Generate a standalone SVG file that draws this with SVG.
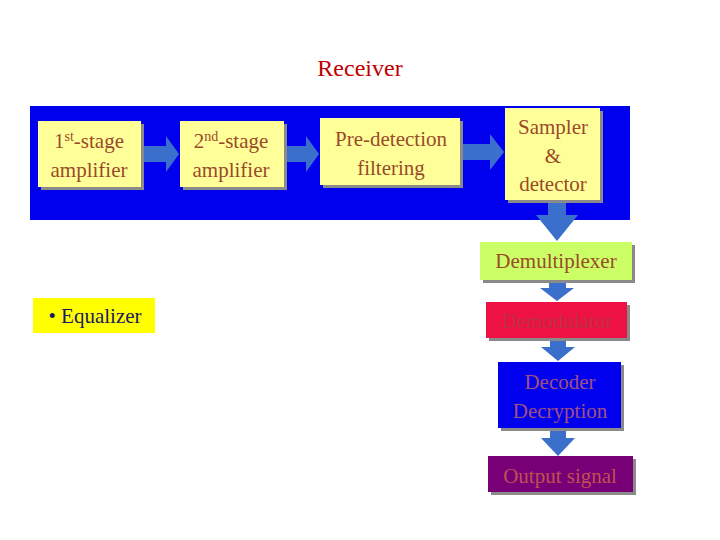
<svg xmlns="http://www.w3.org/2000/svg" width="720" height="540" viewBox="0 0 720 540">
<style>
text{font-family:"Liberation Serif","Times New Roman",serif;font-size:21px;fill:#9a4a2a;text-anchor:middle}
.sh{fill:#8a8a8a}
.ar{fill:#3a6fcc}
</style>
<rect width="720" height="540" fill="#fff"/>
<text x="360" y="76" style="fill:#c00000;font-size:24px">Receiver</text>
<rect x="30" y="106" width="600" height="114" fill="#0000ee"/>
<g id="connectors">
<polygon class="ar" points="141,146 166,146 166,136 179,154 166,172 166,162 141,162"/>
<polygon class="ar" points="284,146 306,146 306,136 319,154 306,172 306,162 284,162"/>
<polygon class="ar" points="460,144 490,144 490,134 504,152 490,170 490,160 460,160"/>
<polygon class="ar" points="548,200 566,200 566,215 578,215 557,241 536,215 548,215"/>
<polygon class="ar" points="549,280 566,280 566,288 574,288 557,301 540,288 549,288"/>
<polygon class="ar" points="550,338 566,338 566,347 575,347 558,361 541,347 550,347"/>
<polygon class="ar" points="550,428 566,428 566,438 575,438 558,456 541,438 550,438"/>
</g>
<g id="n1"><rect class="sh" x="41" y="124" width="103" height="66"/><rect x="38" y="121" width="103" height="66" fill="#ffff99"/>
<text x="89" y="148">1<tspan dy="-7" style="font-size:14px">st</tspan><tspan dy="7">-stage</tspan></text><text x="89" y="177">amplifier</text></g>
<g id="n2"><rect class="sh" x="183" y="124" width="104" height="66"/><rect x="180" y="121" width="104" height="66" fill="#ffff99"/>
<text x="231" y="148">2<tspan dy="-7" style="font-size:14px">nd</tspan><tspan dy="7">-stage</tspan></text><text x="231" y="177">amplifier</text></g>
<g id="n3"><rect class="sh" x="323" y="121" width="140" height="67"/><rect x="320" y="118" width="140" height="67" fill="#ffff99"/>
<text x="391" y="146">Pre-detection</text><text x="391" y="175">filtering</text></g>
<g id="n4"><rect class="sh" x="508" y="111" width="95" height="92"/><rect x="505" y="108" width="95" height="92" fill="#ffff99"/>
<text x="553" y="134">Sampler</text><text x="553" y="163">&amp;</text><text x="553" y="191">detector</text></g>
<g id="n5"><rect class="sh" x="483" y="245" width="152" height="38"/><rect x="480" y="242" width="152" height="38" fill="#ccff66"/>
<text x="556" y="268">Demultiplexer</text></g>
<g id="n6"><rect class="sh" x="489" y="305" width="141" height="36"/><rect x="486" y="302" width="141" height="36" fill="#ee1144"/>
<text x="557" y="328" style="fill:#c03040">Demodulator</text></g>
<g id="n7"><rect class="sh" x="501" y="365" width="123" height="66"/><rect x="498" y="362" width="123" height="66" fill="#0000ee"/>
<text x="560" y="389" style="fill:#a05080">Decoder</text><text x="560" y="418" style="fill:#a05080">Decryption</text></g>
<g id="n8"><rect class="sh" x="491" y="459" width="145" height="36"/><rect x="488" y="456" width="145" height="36" fill="#770077"/>
<text x="560" y="483" style="fill:#c05050">Output signal</text></g>
<g id="n9"><rect x="33" y="298" width="122" height="35" fill="#ffff00"/>
<text x="95" y="323" style="fill:#1a1a66">• Equalizer</text></g>
</svg>
